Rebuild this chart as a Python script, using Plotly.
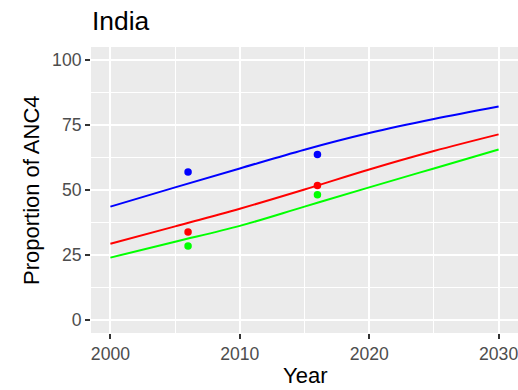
import plotly.graph_objects as go

years = [2000, 2005, 2010, 2015, 2020, 2025, 2030]
blue_line = [43.6, 51.0, 58.3, 65.5, 71.9, 77.3, 82.1]
red_line = [29.3, 36.0, 42.8, 50.2, 57.9, 65.0, 71.4]
green_line = [24.0, 30.1, 36.2, 43.6, 51.0, 58.3, 65.6]

survey_years = [2006, 2016]
blue_pts = [56.9, 63.7]
red_pts = [33.8, 51.7]
green_pts = [28.5, 48.2]

x_ticks = [2000, 2010, 2020, 2030]
y_ticks = [0, 25, 50, 75, 100]

colors = {"blue": "#0000FF", "red": "#FF0000", "green": "#00FF00"}

fig = go.Figure()
for name, ys in [("blue", blue_line), ("red", red_line), ("green", green_line)]:
    fig.add_trace(go.Scatter(x=years, y=ys, mode="lines", line=dict(color=colors[name], width=2, shape="spline"),
                             showlegend=False, hoverinfo="skip"))
for name, ys in [("blue", blue_pts), ("red", red_pts), ("green", green_pts)]:
    fig.add_trace(go.Scatter(x=survey_years, y=ys, mode="markers", marker=dict(color=colors[name], size=7.5),
                             showlegend=False))

font = "Liberation Sans, Arial, Helvetica, sans-serif"
axis_common = dict(
    showgrid=True, gridcolor="white", gridwidth=1.6,
    ticks="outside", ticklen=5, tickwidth=1.6, tickcolor="#333333",
    tickfont=dict(family=font, size=17.6, color="#4D4D4D"),
    zeroline=False, showline=False, automargin=False,
    ticklabeloverflow="allow",
)

fig.update_layout(
    width=518, height=390,
    margin=dict(l=91, r=0, t=47, b=57, autoexpand=False),
    paper_bgcolor="white", plot_bgcolor="#EBEBEB",
    title=dict(text="India", font=dict(family=font, size=26.4, color="black"),
               xref="container", x=92/518, xanchor="left",
               yref="container", y=1-21/390, yanchor="middle"),
    xaxis=dict(range=[1998.5, 2031.5], tickvals=x_ticks, ticktext=[str(v) for v in x_ticks], **axis_common),
    yaxis=dict(range=[-5, 105], tickvals=y_ticks, ticktext=[str(v) for v in y_ticks], **axis_common),
    font=dict(family=font),
    annotations=[
        dict(text="Year", xref="paper", yref="paper", x=(305-91)/427, y=(333-375)/286,
             xanchor="center", yanchor="middle", showarrow=False,
             font=dict(family=font, size=22, color="black")),
        dict(text="Proportion of ANC4", xref="paper", yref="paper", x=(31-91)/427, y=0.5,
             xanchor="center", yanchor="middle", showarrow=False, textangle=-90,
             font=dict(family=font, size=22, color="black")),
    ],
)
fig.update_xaxes(minor=dict(tickvals=[2005, 2015, 2025], showgrid=True, gridcolor="white", gridwidth=0.8, ticks=""))
fig.update_yaxes(minor=dict(tickvals=[12.5, 37.5, 62.5, 87.5], showgrid=True, gridcolor="white", gridwidth=0.8, ticks=""))

fig.write_html("out.html", config={"displayModeBar": False},
               post_script="document.body.style.margin='0';document.body.style.padding='0';")
